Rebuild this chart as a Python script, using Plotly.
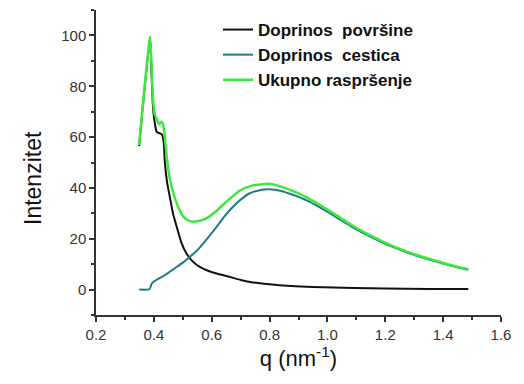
import plotly.graph_objects as go

# Doprinos površine (surface contribution)
q_surf = [0.349, 0.387, 0.392, 0.397, 0.404, 0.410, 0.420, 0.428, 0.434, 0.438, 0.446,
          0.456, 0.467, 0.479, 0.495, 0.513, 0.535, 0.559, 0.585, 0.617, 0.663, 0.700,
          0.744, 0.800, 0.860, 0.950, 1.090, 1.200, 1.350, 1.487]
I_surf = [56.5, 99.0, 85.0, 72.0, 65.0, 62.0, 61.5, 61.0, 58.0, 50.0, 42.0,
          36.0, 29.5, 24.7, 18.5, 14.2, 11.0, 8.9, 7.5, 6.3, 5.0, 3.8,
          2.8, 2.1, 1.5, 1.0, 0.6, 0.4, 0.25, 0.2]

# Doprinos cestica (particle contribution)
q_part = [0.349, 0.380, 0.386, 0.392, 0.398, 0.415, 0.433, 0.455, 0.479, 0.500, 0.525,
          0.550, 0.571, 0.595, 0.617, 0.640, 0.663, 0.698, 0.730, 0.765, 0.800, 0.840,
          0.880, 0.930, 0.974, 1.030, 1.089, 1.150, 1.200, 1.260, 1.310, 1.370, 1.424, 1.487]
I_part = [0.0, 0.0, 0.3, 2.2, 3.0, 4.2, 5.3, 7.0, 8.9, 10.6, 12.9,
          15.5, 18.2, 21.5, 24.7, 28.2, 31.3, 35.2, 37.8, 39.1, 39.5, 38.8,
          37.3, 35.0, 32.3, 28.5, 24.4, 20.7, 18.0, 15.3, 13.2, 11.2, 9.5, 7.8]

# Ukupno raspršenje (total scattering)
q_tot = [0.349, 0.387, 0.392, 0.397, 0.403, 0.410, 0.418, 0.425, 0.430, 0.436, 0.442,
         0.449, 0.456, 0.467, 0.479, 0.490, 0.502, 0.520, 0.536, 0.555, 0.583, 0.615,
         0.651, 0.698, 0.740, 0.796, 0.840, 0.880, 0.930, 0.974, 1.030, 1.089, 1.150,
         1.193, 1.250, 1.308, 1.370, 1.424, 1.487]
I_tot = [56.8, 99.5, 88.0, 75.0, 69.0, 67.0, 65.0, 66.0, 65.5, 62.0, 55.0,
         48.0, 43.2, 38.0, 34.0, 31.0, 28.7, 27.1, 26.7, 27.0, 28.1, 30.8,
         34.6, 39.0, 40.9, 41.6, 40.5, 38.8, 36.2, 33.3, 29.3, 25.0, 21.2,
         18.8, 16.0, 13.6, 11.5, 9.7, 8.0]

names = ["Doprinos  površine", "Doprinos  cestica", "Ukupno raspršenje"]
colors = ["#111111", "#1e7c86", "#3de83d"]

fig = go.Figure()
fig.add_trace(go.Scatter(x=q_surf, y=I_surf, mode="lines", name=names[0],
                         line=dict(color=colors[0], width=2, shape="spline", smoothing=0.5)))
fig.add_trace(go.Scatter(x=q_part, y=I_part, mode="lines", name=names[1],
                         line=dict(color=colors[1], width=2, shape="spline", smoothing=0.5)))
fig.add_trace(go.Scatter(x=q_tot, y=I_tot, mode="lines", name=names[2],
                         line=dict(color=colors[2], width=2.5, shape="spline", smoothing=0.5)))

L, R, T, B = 96, 23, 10, 69
W, H = 524, 384
pw, ph = W - L - R, H - T - B

axis_common = dict(showline=True, linecolor="#333333", linewidth=1.5, ticks="outside",
                   ticklen=5, tickwidth=1.5, tickcolor="#333333", showgrid=False,
                   zeroline=False, mirror=False,
                   tickfont=dict(family="Liberation Sans, Arial", size=15, color="#333333"))

fig.update_layout(
    width=W, height=H,
    margin=dict(l=L, r=R, t=T, b=B),
    paper_bgcolor="white", plot_bgcolor="white",
    showlegend=True,
    legend=dict(x=(218 - L) / pw, y=1 - (12 - T) / ph, xanchor="left", yanchor="top",
                bgcolor="rgba(0,0,0,0)",
                font=dict(family="Liberation Sans, Arial", size=17, color="#111111",
                          weight="bold"),
                tracegroupgap=0, itemwidth=30),
    xaxis=dict(range=[0.2, 1.6], dtick=0.2, tick0=0.2, tickformat=".1f",
               minor=dict(dtick=0.1, ticks="outside", ticklen=3, tickcolor="#333333",
                          tickwidth=1.5),
               title=dict(text="q (nm<sup>-1</sup>)", standoff=6,
                          font=dict(family="Liberation Sans, Arial", size=22, color="#111111")),
               **axis_common),
    yaxis=dict(range=[-10, 110], dtick=20, tick0=0,
               minor=dict(dtick=10, tick0=0, ticks="outside", ticklen=3, tickcolor="#333333",
                          tickwidth=1.5),
               **axis_common),
    annotations=[dict(text="Intenzitet", textangle=-90, xref="paper", yref="paper",
                      x=(33 - L) / pw, y=(H - B - 178) / ph, showarrow=False,
                      xanchor="center", yanchor="middle",
                      font=dict(family="Liberation Sans, Arial", size=23, color="#111111"))],
)

fig.write_html("out.html")
